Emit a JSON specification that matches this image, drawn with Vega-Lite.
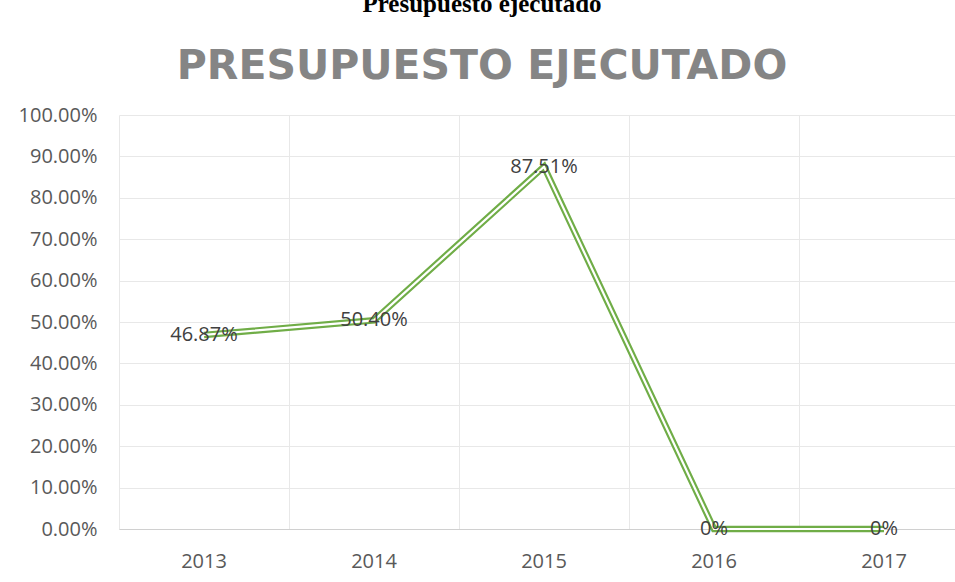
{
  "$schema": "https://vega.github.io/schema/vega-lite/v6.json",
  "width": 850,
  "height": 414,
  "autosize": {"type": "none"},
  "padding": {"left": 119, "top": 115, "right": 0, "bottom": 53},
  "background": "white",
  "title": {
    "text": "Presupuesto ejecutado",
    "subtitle": "PRESUPUESTO EJECUTADO",
    "anchor": "middle",
    "dx": -62,
    "offset": 18,
    "font": "Liberation Serif",
    "fontSize": 25,
    "fontWeight": "bold",
    "color": "#000000",
    "subtitleFont": "DejaVu Sans",
    "subtitleFontSize": 41,
    "subtitleFontWeight": "bold",
    "subtitleColor": "#858585",
    "subtitlePadding": 30
  },
  "data": {
    "values": [
      {"year": "2013", "value": 0.4687, "label": "46.87%"},
      {"year": "2014", "value": 0.504, "label": "50.40%"},
      {"year": "2015", "value": 0.8751, "label": "87.51%"},
      {"year": "2016", "value": 0, "label": "0%"},
      {"year": "2017", "value": 0, "label": "0%"}
    ]
  },
  "config": {
    "view": {"stroke": null},
    "axis": {
      "labelFont": "Open Sans",
      "labelFontSize": 20,
      "labelColor": "#595959",
      "ticks": false,
      "title": null
    }
  },
  "encoding": {
    "x": {
      "field": "year",
      "type": "ordinal",
      "scale": {"type": "band", "paddingInner": 0, "paddingOuter": 0},
      "axis": {
        "labelAngle": 0,
        "labelPadding": 22,
        "domain": true,
        "domainColor": "#d0d0d0",
        "domainWidth": 1,
        "grid": true,
        "gridColor": "#e8e8e8",
        "gridWidth": 1,
        "bandPosition": 0
      }
    },
    "y": {
      "field": "value",
      "type": "quantitative",
      "scale": {"domain": [0, 1], "nice": false},
      "axis": {
        "format": ".2%",
        "values": [0, 0.1, 0.2, 0.3, 0.4, 0.5, 0.6, 0.7, 0.8, 0.9, 1],
        "domain": false,
        "grid": true,
        "gridColor": "#e8e8e8",
        "gridWidth": 1,
        "labelPadding": 22
      }
    }
  },
  "layer": [
    {"mark": {"type": "line", "color": "#70ad47", "strokeWidth": 6.5, "strokeJoin": "miter"}, "encoding": {"x": {"field": "year", "type": "ordinal", "bandPosition": 0.5}}},
    {"mark": {"type": "line", "color": "#ffffff", "strokeWidth": 2.2, "strokeJoin": "miter"}, "encoding": {"x": {"field": "year", "type": "ordinal", "bandPosition": 0.5}}},
    {
      "mark": {"type": "text", "font": "Open Sans", "fontSize": 20, "color": "#404040", "align": "center", "baseline": "middle"},
      "encoding": {"text": {"field": "label"}}
    }
  ]
}
